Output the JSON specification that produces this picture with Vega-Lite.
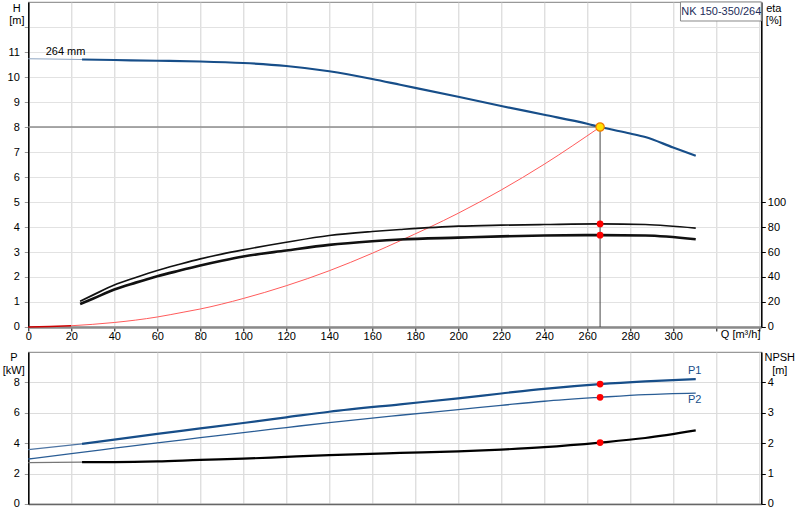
{
  "$schema": "https://vega.github.io/schema/vega-lite/v6.json",
  "padding": {"left": 1.3, "top": 0, "right": 0, "bottom": 0},
  "spacing": 8,
  "config": {
    "font": "Liberation Sans",
    "view": {"stroke": "#999", "strokeWidth": 1.2},
    "axis": {
      "labelFont": "Liberation Sans", "labelFontSize": 11, "labelColor": "#000",
      "titleFont": "Liberation Sans", "titleFontSize": 11, "titleFontWeight": "normal", "titleColor": "#000",
      "tickColor": "#888", "domainColor": "#000", "gridColor": "#e2e2e2", "labelFlush": false, "labelOverlap": false
    }
  },
  "datasets": {
    "pump": [
      {"Q": 0, "H": 10.73}, {"Q": 10, "H": 10.72}, {"Q": 25, "H": 10.70}, {"Q": 40, "H": 10.68},
      {"Q": 60, "H": 10.65}, {"Q": 80, "H": 10.62}, {"Q": 100, "H": 10.56}, {"Q": 120, "H": 10.44},
      {"Q": 140, "H": 10.23}, {"Q": 160, "H": 9.92}, {"Q": 173, "H": 9.69}, {"Q": 200, "H": 9.21},
      {"Q": 220, "H": 8.84}, {"Q": 240, "H": 8.49}, {"Q": 260, "H": 8.13}, {"Q": 266, "H": 8.0},
      {"Q": 280, "H": 7.74}, {"Q": 287, "H": 7.60}, {"Q": 300, "H": 7.18}, {"Q": 310.5, "H": 6.85}
    ],
    "system": [
      {"Q": 0, "H": 0}, {"Q": 10, "H": 0.02}, {"Q": 20, "H": 0.05}, {"Q": 40, "H": 0.18},
      {"Q": 60, "H": 0.40}, {"Q": 72, "H": 0.59}, {"Q": 80, "H": 0.72}, {"Q": 100, "H": 1.14}, {"Q": 120, "H": 1.65},
      {"Q": 140, "H": 2.25}, {"Q": 160, "H": 2.95}, {"Q": 173, "H": 3.45}, {"Q": 200, "H": 4.55},
      {"Q": 220, "H": 5.48}, {"Q": 240, "H": 6.51}, {"Q": 266, "H": 8.0}
    ],
    "eta": [
      {"Q": 24.1, "eta": 20.6, "curve": "eta pump"}, {"Q": 30, "eta": 25.5, "curve": "eta pump"},
      {"Q": 40, "eta": 33.6, "curve": "eta pump"}, {"Q": 50, "eta": 39.6, "curve": "eta pump"},
      {"Q": 60, "eta": 45.2, "curve": "eta pump"}, {"Q": 70, "eta": 50.0, "curve": "eta pump"},
      {"Q": 80, "eta": 54.5, "curve": "eta pump"}, {"Q": 90, "eta": 58.3, "curve": "eta pump"},
      {"Q": 100, "eta": 61.7, "curve": "eta pump"}, {"Q": 120, "eta": 67.8, "curve": "eta pump"},
      {"Q": 140, "eta": 73.2, "curve": "eta pump"}, {"Q": 160, "eta": 76.4, "curve": "eta pump"},
      {"Q": 173, "eta": 78.0, "curve": "eta pump"}, {"Q": 200, "eta": 80.7, "curve": "eta pump"},
      {"Q": 220, "eta": 81.5, "curve": "eta pump"}, {"Q": 240, "eta": 82.0, "curve": "eta pump"},
      {"Q": 266, "eta": 82.5, "curve": "eta pump"}, {"Q": 287, "eta": 82.0, "curve": "eta pump"},
      {"Q": 310.5, "eta": 79.1, "curve": "eta pump"},
      {"Q": 24.1, "eta": 18.4, "curve": "eta total"}, {"Q": 30, "eta": 22.6, "curve": "eta total"},
      {"Q": 40, "eta": 30.0, "curve": "eta total"}, {"Q": 50, "eta": 35.5, "curve": "eta total"},
      {"Q": 60, "eta": 40.6, "curve": "eta total"}, {"Q": 70, "eta": 45.0, "curve": "eta total"},
      {"Q": 80, "eta": 49.2, "curve": "eta total"}, {"Q": 90, "eta": 53.0, "curve": "eta total"},
      {"Q": 100, "eta": 56.4, "curve": "eta total"}, {"Q": 120, "eta": 61.2, "curve": "eta total"},
      {"Q": 140, "eta": 65.7, "curve": "eta total"}, {"Q": 160, "eta": 68.6, "curve": "eta total"},
      {"Q": 173, "eta": 70.0, "curve": "eta total"}, {"Q": 200, "eta": 71.5, "curve": "eta total"},
      {"Q": 220, "eta": 72.5, "curve": "eta total"}, {"Q": 240, "eta": 73.2, "curve": "eta total"},
      {"Q": 266, "eta": 73.5, "curve": "eta total"}, {"Q": 287, "eta": 73.2, "curve": "eta total"},
      {"Q": 310.5, "eta": 70.2, "curve": "eta total"}
    ],
    "power": [
      {"Q": 0, "P": 3.58, "curve": "P1"}, {"Q": 25, "P": 3.96, "curve": "P1"}, {"Q": 40, "P": 4.24, "curve": "P1"},
      {"Q": 60, "P": 4.61, "curve": "P1"}, {"Q": 80, "P": 4.97, "curve": "P1"}, {"Q": 100, "P": 5.33, "curve": "P1"},
      {"Q": 120, "P": 5.70, "curve": "P1"}, {"Q": 140, "P": 6.07, "curve": "P1"}, {"Q": 173, "P": 6.56, "curve": "P1"},
      {"Q": 200, "P": 6.95, "curve": "P1"}, {"Q": 220, "P": 7.27, "curve": "P1"}, {"Q": 240, "P": 7.58, "curve": "P1"},
      {"Q": 266, "P": 7.89, "curve": "P1"}, {"Q": 287, "P": 8.07, "curve": "P1"}, {"Q": 310.5, "P": 8.22, "curve": "P1"},
      {"Q": 0, "P": 2.96, "curve": "P2"}, {"Q": 20, "P": 3.32, "curve": "P2"}, {"Q": 40, "P": 3.67, "curve": "P2"},
      {"Q": 60, "P": 4.02, "curve": "P2"}, {"Q": 80, "P": 4.36, "curve": "P2"}, {"Q": 100, "P": 4.70, "curve": "P2"},
      {"Q": 120, "P": 5.03, "curve": "P2"}, {"Q": 140, "P": 5.36, "curve": "P2"}, {"Q": 173, "P": 5.84, "curve": "P2"},
      {"Q": 200, "P": 6.21, "curve": "P2"}, {"Q": 220, "P": 6.49, "curve": "P2"}, {"Q": 240, "P": 6.76, "curve": "P2"},
      {"Q": 266, "P": 7.02, "curve": "P2"}, {"Q": 287, "P": 7.20, "curve": "P2"}, {"Q": 310.5, "P": 7.30, "curve": "P2"}
    ],
    "npsh": [
      {"Q": 0, "NPSH": 1.36}, {"Q": 25, "NPSH": 1.38}, {"Q": 40, "NPSH": 1.38}, {"Q": 60, "NPSH": 1.40},
      {"Q": 80, "NPSH": 1.45}, {"Q": 100, "NPSH": 1.49}, {"Q": 120, "NPSH": 1.55}, {"Q": 140, "NPSH": 1.61},
      {"Q": 173, "NPSH": 1.68}, {"Q": 200, "NPSH": 1.73}, {"Q": 220, "NPSH": 1.79}, {"Q": 240, "NPSH": 1.87},
      {"Q": 266, "NPSH": 2.02}, {"Q": 287, "NPSH": 2.17}, {"Q": 310.5, "NPSH": 2.42}
    ]
  },
  "vconcat": [
    {
      "width": 733,
      "height": 325,
      "encoding": {
        "x": {
          "field": "Q", "type": "quantitative",
          "scale": {"domain": [0, 341], "nice": false, "zero": false},
          "axis": {
            "values": [0, 20, 40, 60, 80, 100, 120, 140, 160, 180, 200, 220, 240, 260, 280, 300, 320, 340],
            "labelExpr": "datum.value > 310 ? '' : datum.label",
            "title": "Q [m³/h]", "titleX": 692, "titleY": 8, "titleAlign": "left", "titleBaseline": "middle", "titleAngle": 0,
            "grid": true, "gridColor": "#d2d2d2", "domainColor": "#8a8a8a", "domainWidth": 2.5,
            "tickColor": "#000", "tickSize": 4, "labelPadding": 0
          }
        }
      },
      "layer": [
        {
          "encoding": {
            "y": {
              "field": "H", "type": "quantitative",
              "scale": {"domain": [0, 13], "nice": false, "zero": false},
              "axis": {
                "orient": "left",
                "values": [0, 1, 2, 3, 4, 5, 6, 7, 8, 9, 10, 11, 12],
                "labelExpr": "datum.value > 11 ? '' : datum.label",
                "grid": true, "gridColor": "#e2e2e2", "domainColor": "#000", "domainWidth": 1.5,
                "tickColor": "#999", "tickSize": 4, "labelPadding": 5,
                "title": ["H", "[m]"], "titleAngle": 0, "titleAlign": "center", "titleBaseline": "top",
                "titleX": -12, "titleY": 0, "titleLineHeight": 13
              }
            }
          },
          "layer": [
            {
              "data": {"name": "system"},
              "transform": [{"filter": "datum.Q <= 20"}],
              "mark": {"type": "line", "color": "#cc0000", "strokeWidth": 1.5, "interpolate": "monotone"}
            },
            {
              "data": {"name": "system"},
              "transform": [{"filter": "datum.Q >= 20"}],
              "mark": {"type": "line", "color": "#ff5a5a", "strokeWidth": 1, "interpolate": "monotone"}
            },
            {
              "data": {"name": "pump"},
              "transform": [{"filter": "datum.Q == 266"}],
              "mark": {"type": "rule", "color": "#8c8c8c", "strokeWidth": 1.5},
              "encoding": {"x": {"datum": 0, "type": "quantitative"}, "x2": {"field": "Q"}}
            },
            {
              "data": {"name": "pump"},
              "transform": [{"filter": "datum.Q == 266"}],
              "mark": {"type": "rule", "color": "#444", "strokeWidth": 1},
              "encoding": {"y": {"datum": 0, "type": "quantitative"}, "y2": {"field": "H"}}
            },
            {
              "data": {"name": "pump"},
              "transform": [{"filter": "datum.Q <= 25"}],
              "mark": {"type": "line", "color": "#8fa6c2", "strokeWidth": 1.2, "interpolate": "monotone"}
            },
            {
              "data": {"name": "pump"},
              "transform": [{"filter": "datum.Q >= 25"}],
              "mark": {"type": "line", "color": "#174e89", "strokeWidth": 2.2, "interpolate": "monotone"}
            },
            {
              "data": {"name": "pump"},
              "transform": [{"filter": "datum.Q == 266"}],
              "mark": {"type": "point", "filled": true, "fill": "#ffe100", "stroke": "#f07a00", "strokeWidth": 1.2, "size": 70, "opacity": 1}
            },
            {
              "data": {"name": "pump"},
              "transform": [{"filter": "datum.Q == 0"}],
              "mark": {"type": "text", "align": "left", "baseline": "middle", "fontSize": 11, "color": "#000", "invalid": null},
              "encoding": {"x": {"datum": 8.1, "type": "quantitative"}, "y": {"datum": 11.0, "type": "quantitative"}, "text": {"value": "264 mm"}}
            },
            {
              "data": {"name": "pump"},
              "transform": [{"filter": "datum.Q == 0"}],
              "mark": {"type": "rect", "fill": "#fff", "stroke": "#888", "strokeWidth": 1, "invalid": null},
              "encoding": {
                "x": {"datum": 303.4, "type": "quantitative"}, "x2": {"datum": 341},
                "y": {"datum": 12.24, "type": "quantitative"}, "y2": {"datum": 13}
              }
            },
            {
              "data": {"name": "pump"},
              "transform": [{"filter": "datum.Q == 0"}],
              "mark": {"type": "text", "align": "center", "baseline": "middle", "fontSize": 11, "color": "#1d2d5a", "invalid": null},
              "encoding": {"x": {"datum": 322.4, "type": "quantitative"}, "y": {"datum": 12.62, "type": "quantitative"}, "text": {"value": "NK 150-350/264"}}
            }
          ]
        },
        {
          "data": {"name": "eta"},
          "encoding": {
            "y": {
              "field": "eta", "type": "quantitative",
              "scale": {"domain": [0, 260], "nice": false, "zero": false},
              "axis": {
                "orient": "right",
                "values": [0, 20, 40, 60, 80, 100],
                "grid": false, "domainColor": "#000", "domainWidth": 1.5,
                "tickColor": "#000", "tickSize": 4, "labelPadding": 2,
                "title": ["eta", "[%]"], "titleAngle": 0, "titleAlign": "center", "titleBaseline": "top",
                "titleX": 12, "titleY": 0, "titleLineHeight": 13
              }
            }
          },
          "layer": [
            {
              "mark": {"type": "line", "color": "#111", "interpolate": "monotone"},
              "encoding": {
                "detail": {"field": "curve"},
                "strokeWidth": {"field": "curve", "type": "nominal", "scale": {"domain": ["eta pump", "eta total"], "range": [1.7, 2.7]}, "legend": null}
              }
            },
            {
              "transform": [{"filter": "datum.Q == 266"}],
              "mark": {"type": "point", "filled": true, "color": "#ff0000", "size": 45, "opacity": 1}
            }
          ]
        }
      ],
      "resolve": {"scale": {"y": "independent"}}
    },
    {
      "width": 733,
      "height": 152,
      "encoding": {
        "x": {
          "field": "Q", "type": "quantitative",
          "scale": {"domain": [0, 341], "nice": false, "zero": false},
          "axis": {
            "values": [0, 20, 40, 60, 80, 100, 120, 140, 160, 180, 200, 220, 240, 260, 280, 300, 320, 340],
            "labels": false, "ticks": false, "title": null,
            "grid": true, "gridColor": "#d2d2d2", "domainColor": "#666", "domainWidth": 1.5
          }
        }
      },
      "layer": [
        {
          "data": {"name": "power"},
          "encoding": {
            "y": {
              "field": "P", "type": "quantitative",
              "scale": {"domain": [0, 10], "nice": false, "zero": false},
              "axis": {
                "orient": "left",
                "values": [0, 2, 4, 6, 8],
                "grid": true, "gridColor": "#dcdcdc", "domainColor": "#000", "domainWidth": 1.5,
                "tickColor": "#999", "tickSize": 4, "labelPadding": 5,
                "title": ["P", "[kW]"], "titleAngle": 0, "titleAlign": "center", "titleBaseline": "top",
                "titleX": -15, "titleY": 0, "titleLineHeight": 13
              }
            }
          },
          "layer": [
            {
              "transform": [{"filter": "datum.curve == 'P1' && datum.Q <= 25"}],
              "mark": {"type": "line", "color": "#4d74a3", "strokeWidth": 1.2, "interpolate": "monotone"}
            },
            {
              "transform": [{"filter": "datum.curve == 'P1' && datum.Q >= 25"}],
              "mark": {"type": "line", "color": "#174e89", "strokeWidth": 2.2, "interpolate": "monotone"}
            },
            {
              "transform": [{"filter": "datum.curve == 'P2'"}],
              "mark": {"type": "line", "color": "#2a5d95", "strokeWidth": 1.3, "interpolate": "monotone"}
            },
            {
              "transform": [{"filter": "datum.Q == 266"}],
              "mark": {"type": "point", "filled": true, "color": "#ff0000", "size": 45, "opacity": 1}
            },
            {
              "transform": [{"filter": "datum.Q == 310.5 && datum.curve == 'P1'"}],
              "mark": {"type": "text", "align": "center", "baseline": "middle", "dy": -8, "dx": -1, "fontSize": 11, "color": "#174e89"},
              "encoding": {"text": {"field": "curve"}}
            },
            {
              "transform": [{"filter": "datum.Q == 310.5 && datum.curve == 'P2'"}],
              "mark": {"type": "text", "align": "center", "baseline": "middle", "dy": 7, "dx": -1, "fontSize": 11, "color": "#174e89"},
              "encoding": {"text": {"field": "curve"}}
            }
          ]
        },
        {
          "data": {"name": "npsh"},
          "encoding": {
            "y": {
              "field": "NPSH", "type": "quantitative",
              "scale": {"domain": [0, 5], "nice": false, "zero": false},
              "axis": {
                "orient": "right",
                "values": [0, 1, 2, 3, 4],
                "grid": false, "domainColor": "#000", "domainWidth": 1.5,
                "tickColor": "#000", "tickSize": 4, "labelPadding": 2,
                "title": ["NPSH", "[m]"], "titleAngle": 0, "titleAlign": "center", "titleBaseline": "top",
                "titleX": 18, "titleY": 0, "titleLineHeight": 13
              }
            }
          },
          "layer": [
            {
              "transform": [{"filter": "datum.Q <= 25"}],
              "mark": {"type": "line", "color": "#777", "strokeWidth": 1.2, "interpolate": "monotone"}
            },
            {
              "transform": [{"filter": "datum.Q >= 25"}],
              "mark": {"type": "line", "color": "#000", "strokeWidth": 2.2, "interpolate": "monotone"}
            },
            {
              "transform": [{"filter": "datum.Q == 266"}],
              "mark": {"type": "point", "filled": true, "color": "#ff0000", "size": 45, "opacity": 1}
            }
          ]
        }
      ],
      "resolve": {"scale": {"y": "independent"}}
    }
  ]
}
